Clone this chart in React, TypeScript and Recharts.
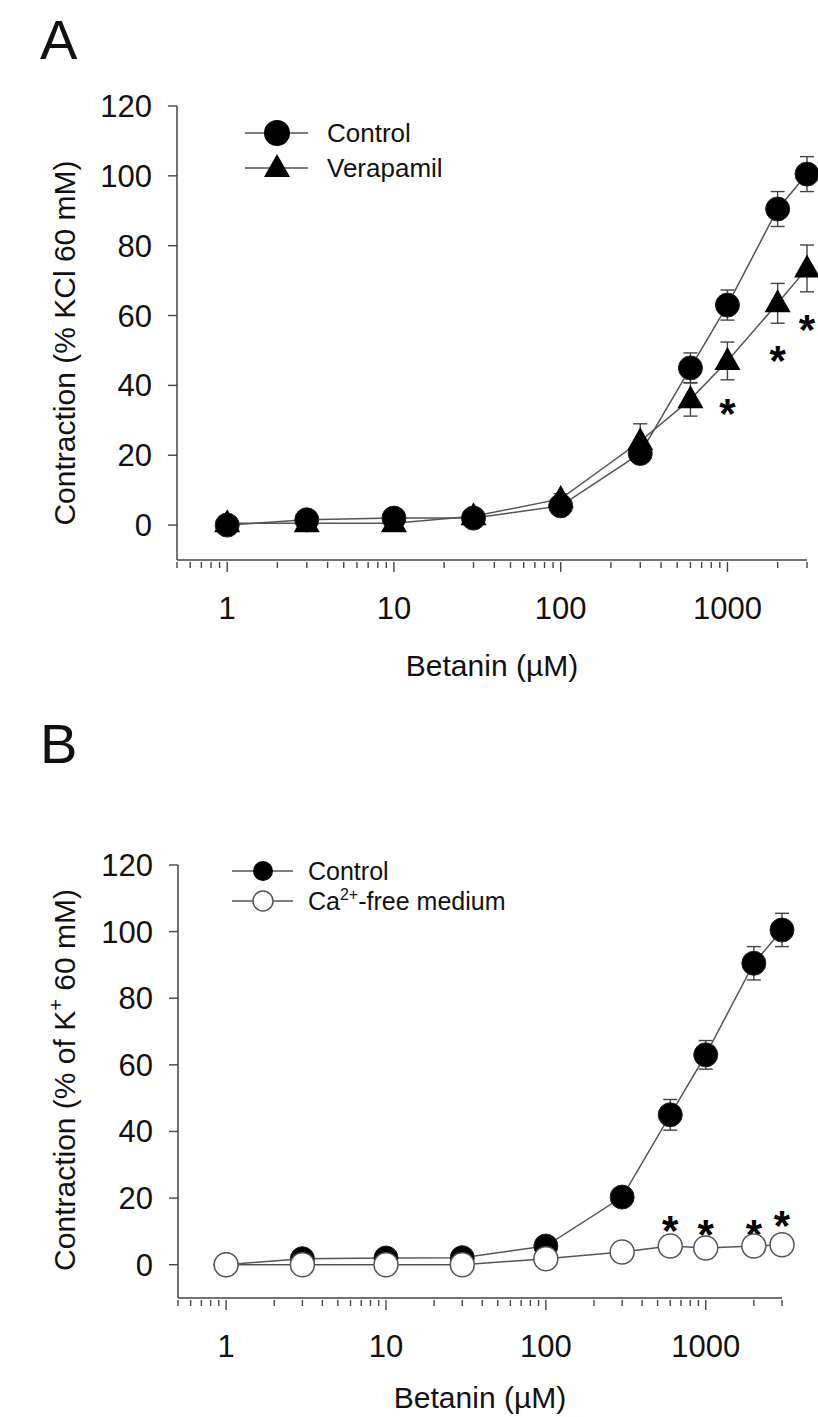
import { ComposedChart, Line, Scatter, XAxis, YAxis, ErrorBar, Legend, Label } from "recharts"

const FONT = "'Liberation Sans', Arial, sans-serif"

// betanin concentrations (µM)
const doses = [1, 3, 10, 30, 100, 300, 600, 1000, 2000, 3000]

// panel A
const controlA = [0, 1.5, 2, 2, 5.5, 20.5, 45, 63, 90.5, 100.5]
const controlAErr = [0.5, 0.8, 1, 1, 1.5, 2.5, 4.3, 4.3, 5, 5]
const verapamil = [0.5, 0.5, 0.5, 2.5, 7.5, 24, 36, 47, 63.5, 73.5]
const verapamilErr = [0.5, 0.5, 0.5, 1, 1.5, 5, 4.8, 5.4, 5.7, 6.7]
const starsAX = [1000, 2000, 3000]
const starsAY = [35, 50, 59]

// panel B
const controlB = [0, 1.8, 2, 2.1, 5.6, 20.3, 45, 63, 90.5, 100.5]
const controlBErr = [0.5, 0.8, 1, 1, 1.5, 2.5, 4.6, 4.3, 5, 5]
const caFree = [0, 0, 0, 0, 1.8, 3.8, 5.6, 5, 5.6, 6]
const caFreeErr = [0.3, 0.3, 0.3, 0.3, 0.5, 0.8, 1, 1, 1, 1]
const starsBX = [600, 1000, 2000, 3000]
const starsBY = [13.3, 12.3, 12.3, 14.8]

const majorTicks = [1, 10, 100, 1000]
const minorTicks = [0.5, 0.6, 0.7, 0.8, 0.9, 2, 3, 4, 5, 6, 7, 8, 9, 20, 30, 40, 50, 60, 70, 80, 90,
  200, 300, 400, 500, 600, 700, 800, 900, 2000, 3000]
const xTicks = [...majorTicks, ...minorTicks].sort((a, b) => a - b)
const yTicks = [0, 20, 40, 60, 80, 100, 120]

const dataA = doses.map((x, i) => ({
  x, control: controlA[i], controlErr: controlAErr[i], verapamil: verapamil[i], verapamilErr: verapamilErr[i],
}))
const dataB = doses.map((x, i) => ({
  x, control: controlB[i], controlErr: controlBErr[i], caFree: caFree[i], caFreeErr: caFreeErr[i],
}))
const starsA = starsAX.map((x, i) => ({ x, y: starsAY[i] }))
const starsB = starsBX.map((x, i) => ({ x, y: starsBY[i] }))

const AXIS = "#444"
const LINE = "#555"
const TICK_FONT = 31

const XTick = (props: any) => {
  const { x, y, payload } = props
  const major = majorTicks.includes(payload.value)
  return (
    <g>
      <line x1={x} x2={x} y1={y} y2={y + (major ? 10 : 6)} stroke={AXIS} strokeWidth={1.4} />
      {major && (
        <text x={x} y={y + 57} textAnchor="middle" fontSize={TICK_FONT} fill="#111" fontFamily={FONT}>
          {payload.value}
        </text>
      )}
    </g>
  )
}

const filledDot = (p: any) => <circle key={`f${p.index}`} cx={p.cx} cy={p.cy} r={12} fill="#000" stroke="#222" />
const openDot = (p: any) => <circle key={`o${p.index}`} cx={p.cx} cy={p.cy} r={12} fill="#fff" stroke={LINE} strokeWidth={1.5} />
const triDot = (p: any) => (
  <path key={`t${p.index}`} d={`M${p.cx},${p.cy - 14} L${p.cx + 13},${p.cy + 9} L${p.cx - 13},${p.cy + 9} Z`} fill="#000" />
)
const starShape = (p: any) => (
  <text x={p.cx} y={p.cy + 25} textAnchor="middle" fontSize={42} fontWeight="bold" fill="#000" fontFamily={FONT}>*</text>
)

const legendA = () => (
  <svg width={818} height={200} style={{ fontFamily: FONT }}>
    <line x1={245} x2={308} y1={133} y2={133} stroke={LINE} strokeWidth={1.5} />
    <circle cx={277} cy={133} r={13} fill="#000" />
    <text x={327} y={142} fontSize={26} fill="#111">Control</text>
    <line x1={245} x2={308} y1={168} y2={168} stroke={LINE} strokeWidth={1.5} />
    <path d="M277,154 L290,177 L264,177 Z" fill="#000" />
    <text x={327} y={177} fontSize={26} fill="#111">Verapamil</text>
  </svg>
)

const legendB = () => (
  <svg width={818} height={220} style={{ fontFamily: FONT }}>
    <line x1={232} x2={293} y1={151} y2={151} stroke={LINE} strokeWidth={1.5} />
    <circle cx={263} cy={151} r={10} fill="#000" />
    <text x={308} y={160} fontSize={25} fill="#111">Control</text>
    <line x1={232} x2={293} y1={181} y2={181} stroke={LINE} strokeWidth={1.5} />
    <circle cx={263} cy={181} r={10} fill="#fff" stroke={LINE} strokeWidth={1.5} />
    <text x={308} y={190} fontSize={25} fill="#111">
      Ca<tspan fontSize={16} dy={-10}>2+</tspan><tspan dy={10}>-free medium</tspan>
    </text>
  </svg>
)

const legendWrap = { left: 0, top: 0, width: 818, height: 220 }

export default function App() {
  return (
    <div style={{ position: "absolute", left: 0, top: 0, width: 818, height: 1417, background: "#fff", fontFamily: FONT }}>
      <div style={{ position: "absolute", left: 40, top: 8, fontSize: 56, lineHeight: "64px", color: "#111" }}>A</div>
      <div style={{ position: "absolute", left: 40, top: 712, fontSize: 56, lineHeight: "64px", color: "#111" }}>B</div>

      <div style={{ position: "absolute", left: 0, top: 0 }}>
        <ComposedChart width={818} height={720} data={dataA} margin={{ top: 106, right: 11, bottom: 0, left: 97 }}>
          <XAxis dataKey="x" type="number" scale="log" domain={[0.5, 3000]} ticks={xTicks}
            interval={0} tickSize={0} tickLine={false} tick={<XTick />} height={160}
            axisLine={{ stroke: AXIS, strokeWidth: 1.5 }}>
            <Label content={() => (
              <text x={492} y={676} textAnchor="middle" fontSize={30} fill="#111" fontFamily={FONT}>Betanin (µM)</text>
            )} />
          </XAxis>
          <YAxis type="number" domain={[-10, 120]} ticks={yTicks} width={80} tickSize={9} tickMargin={16}
            tick={{ fontSize: TICK_FONT, fill: "#111", fontFamily: FONT }} axisLine={{ stroke: AXIS, strokeWidth: 1.5 }}
            tickLine={{ stroke: AXIS, strokeWidth: 1.4 }} interval={0}>
            <Label content={() => (
              <text x={75} y={343} transform="rotate(-90 75 343)" textAnchor="middle" fontSize={30} fill="#111" fontFamily={FONT}>
                Contraction (% KCl 60 mM)
              </text>
            )} />
          </YAxis>
          <Legend layout="vertical" align="center" verticalAlign="middle" wrapperStyle={legendWrap} content={legendA} />
          <Line dataKey="control" name="Control" stroke={LINE} strokeWidth={1.5} dot={filledDot} activeDot={false} isAnimationActive={false}>
            <ErrorBar dataKey="controlErr" direction="y" width={7} stroke={AXIS} strokeWidth={1.4} />
          </Line>
          <Line dataKey="verapamil" name="Verapamil" stroke={LINE} strokeWidth={1.5} dot={triDot} activeDot={false} isAnimationActive={false}>
            <ErrorBar dataKey="verapamilErr" direction="y" width={7} stroke={AXIS} strokeWidth={1.4} />
          </Line>
          <Scatter data={starsA} dataKey="y" shape={starShape} legendType="none" isAnimationActive={false} />
        </ComposedChart>
      </div>

      <div style={{ position: "absolute", left: 0, top: 720 }}>
        <ComposedChart width={818} height={697} data={dataB} margin={{ top: 145, right: 36, bottom: 0, left: 98 }}>
          <XAxis dataKey="x" type="number" scale="log" domain={[0.5, 3000]} ticks={xTicks}
            interval={0} tickSize={0} tickLine={false} tick={<XTick />} height={119}
            axisLine={{ stroke: AXIS, strokeWidth: 1.5 }}>
            <Label content={() => (
              <text x={480} y={688} textAnchor="middle" fontSize={30} fill="#111" fontFamily={FONT}>Betanin (µM)</text>
            )} />
          </XAxis>
          <YAxis type="number" domain={[-10, 120]} ticks={yTicks} width={80} tickSize={9} tickMargin={16}
            tick={{ fontSize: TICK_FONT, fill: "#111", fontFamily: FONT }} axisLine={{ stroke: AXIS, strokeWidth: 1.5 }}
            tickLine={{ stroke: AXIS, strokeWidth: 1.4 }} interval={0}>
            <Label content={() => (
              <text x={75} y={360} transform="rotate(-90 75 360)" textAnchor="middle" fontSize={30} fill="#111" fontFamily={FONT}>
                Contraction (% of K<tspan fontSize={20} dy={-12}>+</tspan><tspan dy={12}> 60 mM)</tspan>
              </text>
            )} />
          </YAxis>
          <Legend layout="vertical" align="center" verticalAlign="middle" wrapperStyle={legendWrap} content={legendB} />
          <Line dataKey="control" name="Control" stroke={LINE} strokeWidth={1.5} dot={filledDot} activeDot={false} isAnimationActive={false}>
            <ErrorBar dataKey="controlErr" direction="y" width={7} stroke={AXIS} strokeWidth={1.4} />
          </Line>
          <Line dataKey="caFree" name="Ca2+-free medium" stroke={LINE} strokeWidth={1.5} dot={openDot} activeDot={false} isAnimationActive={false}>
            <ErrorBar dataKey="caFreeErr" direction="y" width={7} stroke={AXIS} strokeWidth={1.4} />
          </Line>
          <Scatter data={starsB} dataKey="y" shape={starShape} legendType="none" isAnimationActive={false} />
        </ComposedChart>
      </div>
    </div>
  )
}
